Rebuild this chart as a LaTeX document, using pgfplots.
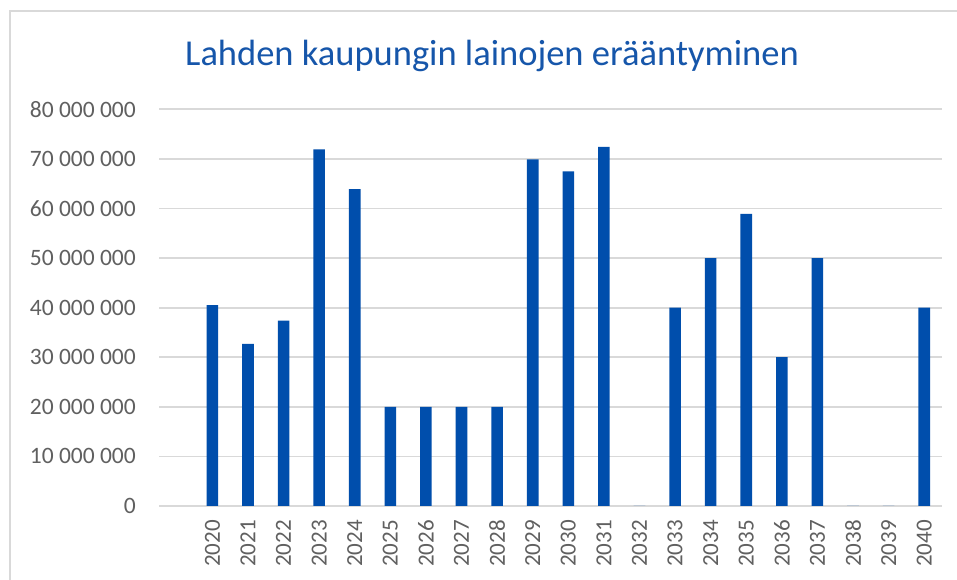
\documentclass[border=0pt]{standalone}
\usepackage{pgfplots}
\pgfplotsset{compat=1.18}
\usepackage{fontspec}
\setmainfont{Carlito}
\definecolor{barblue}{RGB}{0,78,172}
\definecolor{titleblue}{RGB}{22,86,170}
\definecolor{ticktext}{RGB}{96,96,96}
\definecolor{gridgray}{RGB}{217,217,217}
\begin{document}
\begin{tikzpicture}
\useasboundingbox (0pt,0pt) rectangle (957pt,580pt);
\fill[white] (0pt,0pt) rectangle (957pt,580pt);
\draw[gridgray, line width=2pt] (9.7pt,0pt) -- (9.7pt,569.3pt) -- (957pt,569.3pt);
\node[anchor=base, text=titleblue, font=\fontsize{36.5}{40}\selectfont, inner sep=0pt] at (492pt,514.3pt) {Lahden kaupungin lainojen erääntyminen};
\begin{axis}[
  at={(159pt,74pt)}, anchor=south west,
  scale only axis, width=783pt, height=396.7pt,
  xmin=-1.5, xmax=20.5, ymin=0, ymax=80000000,
  axis line style={draw=none},
  major tick length=0pt,
  scaled y ticks=false,
  ymajorgrids, grid style={gridgray, line width=1.8pt},
  ytick={0,10000000,20000000,30000000,40000000,50000000,60000000,70000000,80000000},
  yticklabels={0,10 000 000,20 000 000,30 000 000,40 000 000,50 000 000,60 000 000,70 000 000,80 000 000},
  xtick={0,1,2,3,4,5,6,7,8,9,10,11,12,13,14,15,16,17,18,19,20},
  xticklabels={2020,2021,2022,2023,2024,2025,2026,2027,2028,2029,2030,2031,2032,2033,2034,2035,2036,2037,2038,2039,2040},
  /pgf/number format/assume math mode=true,
  y tick label style={anchor=east, inner sep=0pt, xshift=-23pt, text=ticktext, font=\fontsize{23.5}{26}\selectfont},
  x tick label style={yshift=-14pt, rotate=90, anchor=east, inner sep=0pt, text=ticktext, font=\fontsize{23}{26}\selectfont},
  clip=false,
]
\addplot[ybar, bar width=11.6pt, fill=barblue, draw=none] coordinates {
  (0,40500000) (1,32700000) (2,37400000) (3,71900000) (4,63900000)
  (5,20000000) (6,20000000) (7,20000000) (8,20000000) (9,69900000)
  (10,67500000) (11,72400000) (12,0) (13,40000000) (14,50000000)
  (15,58900000) (16,30000000) (17,50000000) (18,0) (19,0) (20,40000000)
};
\end{axis}
\end{tikzpicture}
\end{document}
